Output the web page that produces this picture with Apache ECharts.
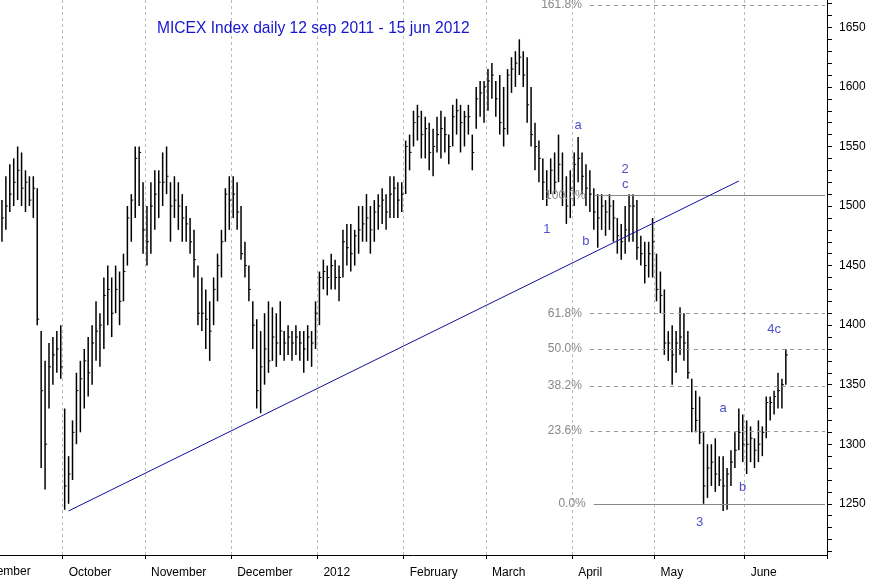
<!DOCTYPE html>
<html><head><meta charset="utf-8">
<script src="https://cdn.jsdelivr.net/npm/echarts@6/dist/echarts.min.js"></script>
<style>html,body{margin:0;padding:0;background:#fff}#c{width:877px;height:579px}</style>
</head><body><div id="c"></div>
<script>
// [high, low, close] per trading day
const sep11=[[1505,1470,1490],[1525,1480,1500],[1535,1495,1510],[1540,1500,1520],[1550,1505,1530],[1545,1500,1515],[1530,1495,1520],[1525,1500,1505],[1525,1490,1515],[1515,1400,1405],[1395,1280,1345],[1370,1262,1300],[1385,1330,1365],[1390,1350,1375],[1395,1360,1380],[1400,1355,1365]];
const oct11=[[1330,1245,1265],[1290,1250,1275],[1320,1270,1310],[1360,1300,1345],[1370,1310,1355],[1380,1330,1370],[1390,1340,1360],[1400,1350,1385],[1420,1370,1395],[1410,1365,1400],[1440,1380,1425],[1450,1400,1430],[1440,1390,1410],[1450,1410,1430],[1445,1400,1420],[1460,1420,1445],[1500,1450,1490],[1510,1470,1505],[1550,1490,1540],[1550,1500,1545],[1520,1460,1480]];
const nov11=[[1500,1450,1470],[1520,1460,1500],[1530,1480,1510],[1530,1490,1520],[1545,1500,1520],[1550,1510,1525],[1520,1470,1500],[1525,1490,1505],[1520,1480,1500],[1510,1470,1490],[1500,1470,1485],[1490,1460,1470],[1480,1440,1455],[1450,1400,1410],[1440,1395,1410],[1430,1380,1405],[1420,1370,1395],[1440,1400,1430],[1460,1420,1450],[1480,1440,1470],[1515,1470,1510],[1525,1480,1505]];
const dec11=[[1525,1490,1510],[1520,1480,1495],[1500,1455,1460],[1470,1440,1450],[1450,1420,1430],[1420,1380,1400],[1405,1330,1345],[1395,1326,1365],[1410,1350,1380],[1420,1360,1370],[1415,1370,1390],[1410,1365,1385],[1420,1375,1395],[1395,1370,1385],[1400,1375,1390],[1395,1370,1385],[1400,1375,1390],[1395,1370,1385],[1395,1360,1380],[1400,1370,1390],[1395,1365,1385],[1420,1380,1410]];
const jan12=[[1445,1400,1440],[1455,1430,1445],[1450,1425,1440],[1460,1430,1450],[1455,1430,1440],[1450,1420,1440],[1480,1440,1470],[1485,1450,1465],[1485,1445,1460],[1480,1450,1475],[1500,1460,1480],[1500,1470,1485],[1510,1470,1490],[1500,1460,1480],[1505,1470,1495],[1510,1480,1500],[1515,1485,1505],[1510,1480,1495],[1525,1490,1510],[1525,1490,1515],[1520,1490,1505],[1520,1495,1510]];
const feb12=[[1555,1510,1550],[1560,1530,1545],[1580,1550,1570],[1585,1555,1575],[1580,1540,1560],[1575,1540,1565],[1570,1530,1545],[1565,1525,1550],[1575,1545,1560],[1580,1540,1565],[1575,1545,1560],[1560,1535,1550],[1585,1550,1575],[1590,1560,1580],[1585,1545,1570],[1580,1550,1575],[1585,1560,1575],[1560,1530,1545],[1600,1565,1590],[1605,1575,1595],[1605,1570,1600]];
const mar12=[[1615,1580,1605],[1620,1590,1610],[1605,1575,1590],[1610,1560,1570],[1600,1550,1565],[1615,1560,1610],[1625,1595,1615],[1630,1600,1620],[1640,1610,1625],[1630,1600,1610],[1625,1570,1585],[1600,1550,1560],[1570,1530,1550],[1555,1520,1540],[1540,1505,1520],[1530,1500,1510],[1540,1510,1530],[1545,1510,1520],[1560,1520,1535],[1545,1500,1510],[1525,1485,1500],[1530,1490,1515]];
const apr12=[[1545,1500,1535],[1558,1520,1540],[1545,1510,1525],[1535,1500,1515],[1530,1495,1510],[1515,1480,1495],[1510,1465,1490],[1510,1480,1500],[1505,1475,1495],[1510,1480,1500],[1505,1470,1490],[1490,1460,1475],[1485,1455,1470],[1500,1460,1480],[1510,1470,1500],[1510,1470,1500],[1505,1455,1465],[1475,1450,1460],[1470,1435,1450],[1470,1440,1460],[1490,1440,1470]];
const may12=[[1460,1420,1430],[1445,1410,1425],[1430,1375,1385],[1395,1370,1385],[1400,1350,1375],[1395,1360,1385],[1415,1375,1390],[1410,1370,1385],[1395,1355,1360],[1355,1310,1330],[1345,1310,1320],[1340,1300,1310],[1310,1250,1265],[1300,1255,1280],[1300,1265,1285],[1305,1260,1275],[1290,1265,1270],[1290,1244,1265],[1280,1245,1275],[1295,1265,1285],[1310,1280,1295],[1330,1295,1310],[1325,1285,1300]];
const jun12=[[1320,1275,1300],[1315,1285,1305],[1305,1280,1295],[1320,1285,1300],[1315,1290,1310],[1340,1305,1335],[1340,1320,1335],[1345,1325,1340],[1360,1330,1345],[1355,1330,1350],[1380,1350,1375]];
const monthNames=['January','February','March','April','May','June','July','August','September','October','November','December'];
const fibLevels=[1250,1311,1349,1380,1410,1509,1669];
const fibLabels=['0.0%','23.6%','38.2%','50.0%','61.8%','100.0%','161.8%'];
const waveLabels=['a','1','b','2','c','3','a','b','4c'];
const waveDates=['2012-04-03','2012-03-22','2012-04-05','2012-04-19','2012-04-19','2012-05-16','2012-05-24','2012-05-31','2012-06-12'];
const waveValues=[1568,1480,1470,1531,1518,1234,1330,1264,1396];
const yTicks=[1250,1300,1350,1400,1450,1500,1550,1600,1650];
const trendStart=['2011-10-04',1244];
const trendEnd=['2012-05-30',1521];

// trading-day categories (weekdays) from 9 Sep 2011 to 29 Jun 2012
const cats=[];
for(let d=new Date(Date.UTC(2011,8,9));d<=new Date(Date.UTC(2012,5,29));d.setUTCDate(d.getUTCDate()+1)){
  const w=d.getUTCDay(); if(w===0||w===6) continue;
  cats.push(d.toISOString().slice(0,10));
}
const bars=[].concat(sep11,oct11,nov11,dec11,jan12,feb12,mar12,apr12,may12,jun12);
const ohlc=bars.map((b,i)=>[i,b[0],b[1],b[2]]);
const isMonthStart=i=>i>0&&cats[i].slice(5,7)!==cats[i-1].slice(5,7);
const monthLabel=v=>{const m=+v.slice(5,7);return m===1?v.slice(0,4):monthNames[m-1];};
const fibStart='2012-04-09';
const fibStartDash='2012-04-06';
const ch=echarts.init(document.getElementById('c'));
ch.setOption({
  animation:false,
  backgroundColor:'#fff',
  grid:{left:0,right:50,top:0,bottom:24},
  title:{text:'MICEX Index daily 12 sep 2011 - 15 jun 2012',left:152,top:16,textStyle:{color:'#1515d0',fontSize:15.6,fontWeight:'normal',fontFamily:'Liberation Sans'}},
  graphic:[{type:'text',left:-28,top:566,style:{text:'September',fill:'#000',font:'12px Liberation Sans'}}],
  xAxis:{type:'category',data:cats,boundaryGap:true,
    axisLine:{show:true,lineStyle:{color:'#000'}},
    axisTick:{show:true,interval:(i)=>isMonthStart(i),length:4,lineStyle:{color:'#000'}},
    axisLabel:{interval:(i)=>isMonthStart(i),formatter:monthLabel,align:'left',padding:[0,0,0,4],color:'#000',fontSize:12,fontFamily:'Liberation Sans',margin:12},
    splitLine:{show:true,interval:(i)=>isMonthStart(i),lineStyle:{color:'#bbb',type:[3,3]}}},
  yAxis:{type:'value',position:'right',min:1207,max:1673,
    axisLine:{show:true,lineStyle:{color:'#000'}},
    axisTick:{show:true,length:5,lineStyle:{color:'#000'},customValues:Array.from({length:47},(_,k)=>1210+k*10)},
    axisLabel:{color:'#000',fontSize:12,fontFamily:'Liberation Sans',margin:12,formatter:v=>String(v),customValues:yTicks},
    splitLine:{show:false}},
  series:[
    {type:'custom',data:ohlc,encode:{x:0,y:[1,2,3]},clip:true,
     renderItem:(p,api)=>{
       const x=api.coord([api.value(0),0])[0];
       const h=api.coord([api.value(0),api.value(1)])[1];
       const l=api.coord([api.value(0),api.value(2)])[1];
       const c=api.coord([api.value(0),api.value(3)])[1];
       const st={stroke:'#000',lineWidth:1.5};
       return {type:'group',children:[
         {type:'line',shape:{x1:x,y1:h,x2:x,y2:l},style:st},
         {type:'line',shape:{x1:x,y1:c,x2:x+2,y2:c},style:{stroke:'#000',lineWidth:1}}]};
     }},
    {type:'line',data:[trendStart,trendEnd],symbol:'none',lineStyle:{color:'#1010a0',width:1},z:5,
     markLine:{symbol:'none',silent:true,
       label:{show:true,position:'start',color:'#888',fontSize:12,fontFamily:'Liberation Sans',distance:8},
       data:fibLevels.map((v,k)=>{const solid=(k===0||k===5);return [
         {coord:[solid?fibStart:fibStartDash,v],name:fibLabels[k],label:{formatter:fibLabels[k]},
          lineStyle:{color:solid?'#888':'#999',type:solid?'solid':[4,4],width:1}},
         {coord:[cats[cats.length-1],v]}];})}},
    {type:'scatter',data:waveDates.map((d,k)=>[d,waveValues[k]]),symbolSize:0,
     label:{show:true,position:'inside',formatter:(p)=>waveLabels[p.dataIndex],color:'#2020c0',fontSize:13,fontFamily:'Liberation Sans'}}
  ]
});
</script></body></html>
